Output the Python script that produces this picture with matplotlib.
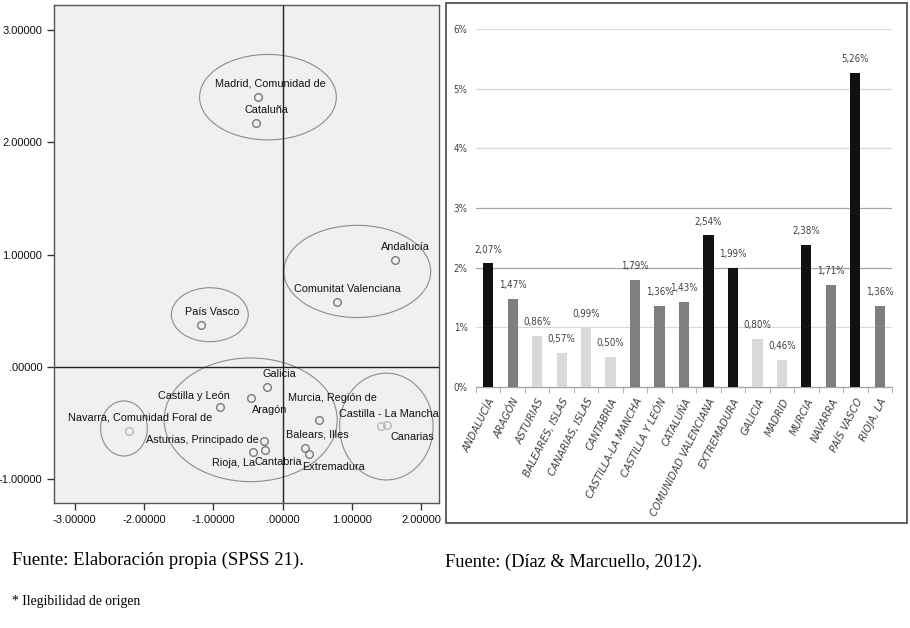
import matplotlib
matplotlib.use('Agg')
from matplotlib import pyplot as plt
from matplotlib.patches import Ellipse, Rectangle

# Left panel: SPSS scatter of the regions (two dimensions)
regiones = ['Madrid, Comunidad de', 'Cataluña', 'Andalucía', 'Comunitat Valenciana',
            'País Vasco', 'Galicia', 'Castilla y León', 'Aragón', 'Murcia, Región de',
            'Castilla - La Mancha', 'Canarias', 'Navarra, Comunidad Foral de',
            'Asturias, Principado de', 'Balears, Illes', 'Extremadura', 'Rioja, La', 'Cantabria']
dim1 = [-0.35, -0.39, 1.62, 0.78, -1.17, -0.22, -0.90, -0.46, 0.525,
        1.51, 1.42, -2.22, -0.27, 0.32, 0.38, -0.43, -0.26]
dim2 = [2.40, 2.17, 0.95, 0.575, 0.37, -0.18, -0.355, -0.275, -0.47,
        -0.52, -0.525, -0.57, -0.66, -0.72, -0.775, -0.755, -0.74]
# lighter markers for a few of the points
claros = ['Castilla - La Mancha', 'Canarias', 'Navarra, Comunidad Foral de']

# label offsets (points) relative to each marker
label_offsets = [(9, 9.5), (8, 9.5), (8, 9.5), (8, 9.5), (8, 9.5), (8.5, 9.5),
                 (-19, 7.5), (14, -8.5), (9.5, 16), (1.5, 8.4), (23, -8), (8, 9.5),
                 (-44, 1), (9, 9.5), (17.5, -9.5), (-13.5, -8), (10, -8.5)]

# group ellipses: centre x, centre y, width, height
grupos_cx = [-0.21, 1.08, -1.05, -0.46, -2.29, 1.50]
grupos_cy = [2.40, 0.85, 0.465, -0.47, -0.547, -0.53]
grupos_w = [1.975, 2.12, 1.11, 2.50, 0.675, 1.35]
grupos_h = [0.76, 0.82, 0.48, 1.10, 0.49, 0.95]

x_ticks = [-3, -2, -1, 0, 1, 2]
y_ticks = [-1, 0, 1, 2, 3]

# Right panel: bar chart (Díaz & Marcuello, 2012)
comunidades = ['ANDALUCÍA', 'ARAGÓN', 'ASTURIAS', 'BALEARES, ISLAS', 'CANARIAS, ISLAS',
               'CANTABRIA', 'CASTILLA-LA MANCHA', 'CASTILLA Y LEÓN', 'CATALUÑA',
               'COMUNIDAD VALENCIANA', 'EXTREMADURA', 'GALICIA', 'MADRID', 'MURCIA',
               'NAVARRA', 'PAÍS VASCO', 'RIOJA, LA']
porcentajes = [2.07, 1.47, 0.86, 0.57, 0.99, 0.50, 1.79, 1.36, 1.43,
               2.54, 1.99, 0.80, 0.46, 2.38, 1.71, 5.26, 1.36]
grupo_barra = ['alto', 'medio', 'bajo', 'bajo', 'bajo', 'bajo', 'medio', 'medio', 'medio',
               'alto', 'alto', 'bajo', 'bajo', 'alto', 'medio', 'alto', 'medio']
colores_barra = {'alto': '#111111', 'medio': '#7f7f7f', 'bajo': '#d9d9d9'}


def fmt_spss(v):
    s = '{:.5f}'.format(v)
    if v == 0:
        s = s[1:]
    return s


def main():
    fig = plt.figure(figsize=(9.10, 6.28), dpi=100)
    fig.patch.set_facecolor('white')
    plt.rcParams['font.family'] = ['Liberation Sans', 'DejaVu Sans']

    # ---- scatter ----
    ax = fig.add_axes([54 / 910, 125 / 628, 385 / 910, 498 / 628])
    ax.set_facecolor('#f0f0f0')
    ax.set_xlim(-3.30, 2.26)
    ax.set_ylim(-1.21, 3.22)

    for cx, cy, w, h in zip(grupos_cx, grupos_cy, grupos_w, grupos_h):
        ax.add_patch(Ellipse((cx, cy), w, h, fill=False, edgecolor='#8c8c8c', lw=0.8))

    ax.axvline(0, color='#222222', lw=1)
    ax.axhline(0, color='#222222', lw=1)

    for name, x, y, off in zip(regiones, dim1, dim2, label_offsets):
        c = '#b8b8b8' if name in claros else '#7a7a7a'
        ax.plot(x, y, 'o', mfc='none', mec=c, ms=5.5, mew=1)
        ax.annotate(name, (x, y), xytext=off, textcoords='offset points',
                    ha='center', va='center', fontsize=7.8, color='#111111',
                    annotation_clip=False, clip_on=True)

    ax.set_xticks(x_ticks)
    ax.set_xticklabels([fmt_spss(v) for v in x_ticks])
    ax.set_yticks(y_ticks)
    ax.set_yticklabels([fmt_spss(v) for v in y_ticks])
    ax.tick_params(labelsize=8, length=5, width=1, color='#333333', labelcolor='#111111')
    for s in ax.spines.values():
        s.set_color('#555555')
        s.set_linewidth(1)

    # ---- bar chart ----
    fig.patches.append(Rectangle((446 / 910, 105 / 628), 461 / 910, 520 / 628,
                                 transform=fig.transFigure, fill=False,
                                 edgecolor='#555555', lw=1.3, zorder=0))
    bx = fig.add_axes([476 / 910, 241 / 628, 416 / 910, 358 / 628])
    pos = list(range(len(comunidades)))
    bars = bx.bar(pos, porcentajes, width=0.42,
                  color=[colores_barra[g] for g in grupo_barra], zorder=3)
    bx.set_xlim(-0.5, len(comunidades) - 0.5)
    bx.set_ylim(0, 6)
    bx.set_yticks(range(0, 7))
    bx.set_yticklabels(['{}%'.format(v) for v in range(0, 7)])
    for v in range(1, 7):
        c = '#a6a6a6' if v in (2, 3) else '#d9d9d9'
        bx.axhline(v, color=c, lw=0.9, zorder=1)
    for s in ['top', 'right', 'left']:
        bx.spines[s].set_visible(False)
    bx.spines['bottom'].set_color('#a6a6a6')
    bx.spines['bottom'].set_linewidth(1)

    narrow = ['DejaVu Sans']
    for b, v in zip(bars, porcentajes):
        bx.annotate('{:.2f}%'.format(v).replace('.', ','),
                    (b.get_x() + b.get_width() / 2, v), xytext=(0, 10),
                    textcoords='offset points', ha='center', va='center',
                    fontsize=7, color='#404040', family=narrow, stretch='condensed')

    bx.set_xticks(pos)
    bx.set_xticklabels(comunidades, rotation=63, ha='right', rotation_mode='anchor',
                       fontsize=8, style='italic', color='#404040', family=narrow,
                       stretch='condensed')
    bx.set_xticks([p - 0.5 for p in pos] + [len(pos) - 0.5], minor=True)
    bx.tick_params(axis='x', which='major', length=0, pad=7)
    bx.tick_params(axis='x', which='minor', length=4, color='#a6a6a6')
    bx.tick_params(axis='y', length=0, pad=6, labelsize=7, labelcolor='#404040')
    for t in bx.get_yticklabels():
        t.set_family(narrow)
        t.set_stretch('condensed')

    # ---- captions ----
    serif = ['Liberation Serif', 'DejaVu Serif']
    fig.text(12 / 910, 1 - 560 / 628, 'Fuente: Elaboración propia (SPSS 21).',
             fontsize=13.5, family=serif, va='center', ha='left')
    fig.text(445 / 910, 1 - 562 / 628, 'Fuente: (Díaz & Marcuello, 2012).',
             fontsize=13.2, family=serif, va='center', ha='left')
    fig.text(12 / 910, 1 - 601 / 628, '* Ilegibilidad de origen',
             fontsize=9.8, family=serif, va='center', ha='left')

    plt.savefig('out.png', dpi=100)


if __name__ == "__main__":
    main()
